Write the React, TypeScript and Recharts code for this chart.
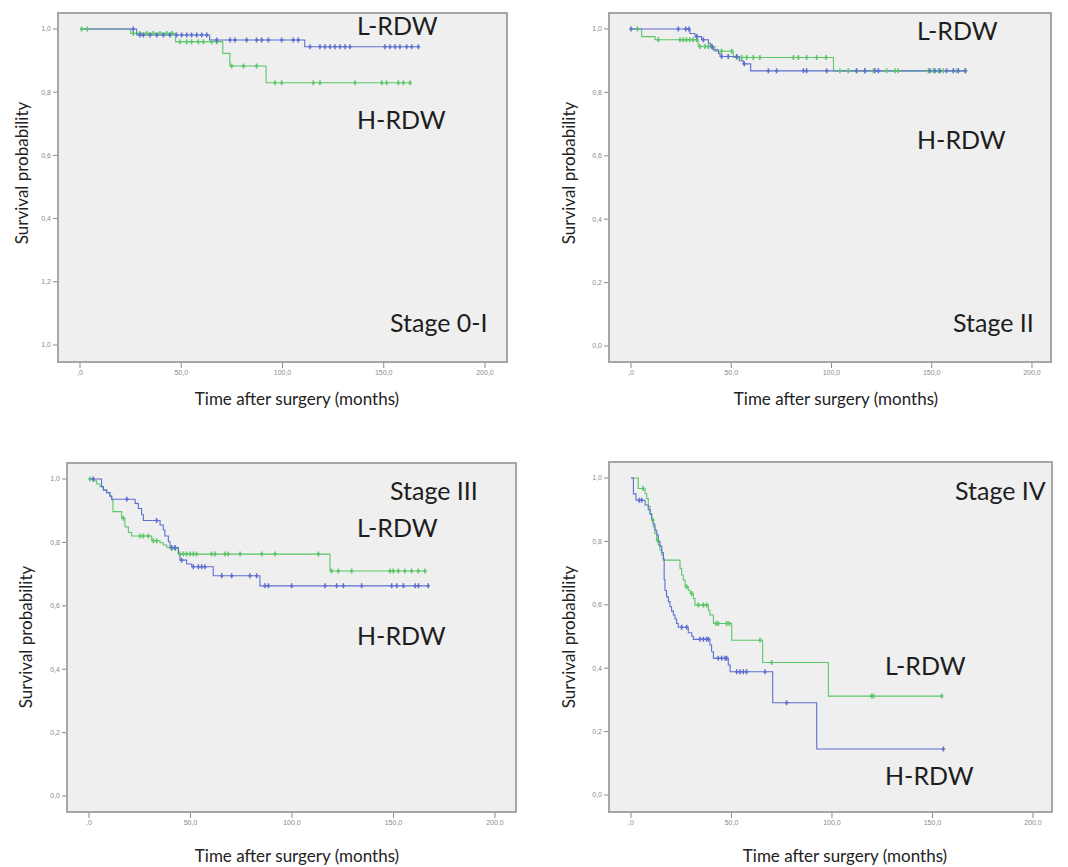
import React from 'react';
import { LineChart, Line, XAxis, YAxis } from 'recharts';

type Pt = [number, number, number?];

// ---------- tick labels ----------
const xTicks = [0, 50, 100, 150, 200];
const xTickLabels = [',0', '50,0', '100,0', '150,0', '200,0'];
const yTicks = [0, 0.2, 0.4, 0.6, 0.8, 1.0];
const yTickLabelsStage1 = ['1,0', '1,2', '0,4', '0,6', '0,8', '1,0'];
const yTickLabels = ['0,0', '0,2', '0,4', '0,6', '0,8', '1,0'];

// ---------- series: [time, survival, censored(1)] ----------
const stage1Green: Pt[] = [
  [0, 1], [0.8, 1, 1], [3.6, 1, 1], [25, 0.986],
  [26.3, 0.986, 1], [29.6, 0.986, 1], [32.9, 0.986, 1], [36.2, 0.986, 1], [39.5, 0.986, 1], [42.8, 0.986, 1], [45.3, 0.986, 1],
  [47.2, 0.96], [49.4, 0.96, 1], [52.7, 0.96, 1], [55.1, 0.96, 1], [58.4, 0.96, 1], [60.9, 0.96, 1], [65.0, 0.96, 1], [67.5, 0.96, 1],
  [70.5, 0.923], [74, 0.883], [74.9, 0.883, 1], [80.7, 0.883, 1], [87.2, 0.883, 1],
  [91.9, 0.83], [96.3, 0.83, 1], [99.6, 0.83, 1], [115.2, 0.83, 1], [118.5, 0.83, 1], [135.8, 0.83, 1],
  [149, 0.83, 1], [151.4, 0.83, 1], [157.2, 0.83, 1], [159.7, 0.83, 1], [163, 0.83, 1],
];
const stage1Blue: Pt[] = [
  [0, 1], [26.3, 1, 1], [28, 0.981],
  [29.6, 0.981, 1], [31.3, 0.981, 1], [34.6, 0.981, 1], [37.9, 0.981, 1], [41.2, 0.981, 1], [44.4, 0.981, 1], [47.7, 0.981, 1],
  [50.2, 0.981, 1], [52.7, 0.981, 1], [55.1, 0.981, 1], [57.6, 0.981, 1], [60.1, 0.981, 1], [62.6, 0.981, 1],
  [64, 0.965], [67.5, 0.965, 1], [74.1, 0.965, 1], [76.5, 0.965, 1], [82.3, 0.965, 1], [87.2, 0.965, 1], [89.7, 0.965, 1],
  [93.0, 0.965, 1], [99.6, 0.965, 1], [105.3, 0.965, 1], [107.8, 0.965, 1],
  [111, 0.944], [113.6, 0.944, 1], [118.5, 0.944, 1], [121, 0.944, 1], [123.5, 0.944, 1], [125.9, 0.944, 1], [128.4, 0.944, 1],
  [130.9, 0.944, 1], [133.3, 0.944, 1], [150.6, 0.944, 1], [153.1, 0.944, 1], [155.6, 0.944, 1], [158, 0.944, 1],
  [161.3, 0.944, 1], [163.8, 0.944, 1], [167.1, 0.944, 1],
];

const stage2Blue: Pt[] = [
  [0, 1, 1], [23.6, 1, 1], [27.3, 1, 1], [28.9, 1, 1], [29.4, 0.986], [31.9, 0.976], [32.8, 0.976, 1],
  [35.2, 0.966], [36.1, 0.966, 1], [38.6, 0.955], [39.7, 0.944], [40.5, 0.944, 1], [41, 0.934], [43.6, 0.923], [44.4, 0.913],
  [45.2, 0.913, 1], [48.5, 0.913, 1], [52.7, 0.913, 1], [54, 0.9], [56, 0.89], [56.5, 0.89, 1], [59.7, 0.868],
  [68.5, 0.868, 1], [72.6, 0.868, 1], [86, 0.868, 1], [87.6, 0.868, 1], [97.6, 0.868, 1], [112.5, 0.868, 1], [116.7, 0.868, 1],
  [121.7, 0.868, 1], [123.4, 0.868, 1], [149.1, 0.868, 1], [151.6, 0.868, 1], [154.1, 0.868, 1], [157.4, 0.868, 1],
  [160.8, 0.868, 1], [163.3, 0.868, 1], [166.6, 0.868, 1],
];
const stage2Green: Pt[] = [
  [0, 1], [3.2, 1, 1], [5.3, 0.976], [12, 0.966], [13.6, 0.966, 1], [24.4, 0.966, 1], [26, 0.966, 1], [27.6, 0.966, 1],
  [29.3, 0.966, 1], [31, 0.966, 1], [32.8, 0.966, 1], [33.5, 0.945], [34.4, 0.945, 1], [36.9, 0.945, 1], [38.6, 0.945, 1],
  [40.2, 0.945, 1], [41.9, 0.93], [45.2, 0.93, 1], [50.2, 0.93, 1], [51, 0.91], [52.7, 0.91, 1], [55.2, 0.91, 1],
  [57.7, 0.91, 1], [61, 0.91, 1], [64.3, 0.91, 1], [81, 0.91, 1], [83.5, 0.91, 1], [87.6, 0.91, 1], [92.6, 0.91, 1],
  [97.3, 0.91, 1], [101, 0.868], [104.2, 0.868, 1], [108.4, 0.868, 1], [112.5, 0.868, 1], [116.7, 0.868, 1],
  [120.9, 0.868, 1], [127.5, 0.868, 1], [131.7, 0.868, 1], [133.3, 0.868, 1], [148.3, 0.868, 1], [150.8, 0.868, 1],
  [153.3, 0.868, 1], [155.8, 0.868, 1], [160.8, 0.868, 1], [162.5, 0.868, 1], [167, 0.868, 1],
];

const stage3Green: Pt[] = [
  [0, 1], [0.5, 1, 1], [2.1, 0.994], [3.8, 0.984], [5.4, 0.976], [7.1, 0.965], [8.7, 0.957], [10.3, 0.946],
  [11.2, 0.934], [11.8, 0.897], [16.1, 0.876], [16.9, 0.876, 1], [17.7, 0.849], [19.4, 0.831], [21, 0.82],
  [25.1, 0.82, 1], [26.8, 0.82, 1], [29.2, 0.82, 1], [30.9, 0.805], [31.7, 0.805, 1], [33.3, 0.805, 1],
  [35, 0.799], [36.6, 0.792], [38.3, 0.784], [39.9, 0.781], [40.7, 0.781, 1], [42.4, 0.781, 1], [44, 0.763],
  [44.8, 0.763, 1], [46.5, 0.763, 1], [48.1, 0.763, 1], [49.8, 0.763, 1], [51.4, 0.763, 1], [53, 0.763, 1],
  [60.4, 0.763, 1], [62.1, 0.763, 1], [67, 0.763, 1], [68.6, 0.763, 1], [74.4, 0.763, 1], [85.1, 0.763, 1],
  [91.6, 0.763, 1], [113, 0.763, 1], [118.7, 0.71], [119.5, 0.71, 1], [122.8, 0.71, 1], [129.4, 0.71, 1],
  [148.3, 0.71, 1], [149.9, 0.71, 1], [152.4, 0.71, 1], [155.6, 0.71, 1], [158.9, 0.71, 1], [162.2, 0.71, 1], [165.5, 0.71, 1],
];
const stage3Blue: Pt[] = [
  [0, 1], [2.1, 1, 1], [6.2, 0.976], [7.1, 0.965], [8.7, 0.957], [10.3, 0.946], [11.2, 0.936], [18.6, 0.936, 1],
  [22.7, 0.923], [24.3, 0.907], [25.9, 0.887], [26.8, 0.869], [33.3, 0.869, 1], [35, 0.855], [36.6, 0.839],
  [37.4, 0.82], [39.1, 0.802], [39.9, 0.784], [40.7, 0.784, 1], [42.4, 0.784, 1], [44, 0.765], [44.8, 0.744],
  [45.6, 0.744, 1], [48.1, 0.732], [50.6, 0.723], [51.4, 0.723, 1], [53.9, 0.723, 1], [55.5, 0.723, 1], [57.1, 0.723, 1],
  [61.2, 0.695], [65.4, 0.695, 1], [70.3, 0.695, 1], [79.3, 0.695, 1], [82.6, 0.695, 1], [84.2, 0.663],
  [86.7, 0.663, 1], [88.4, 0.663, 1], [99.8, 0.663, 1], [116.3, 0.663, 1], [122, 0.663, 1], [125.3, 0.663, 1],
  [134.3, 0.663, 1], [149.1, 0.663, 1], [151.6, 0.663, 1], [154.9, 0.663, 1], [160.7, 0.663, 1], [162.3, 0.663, 1], [167.1, 0.663, 1],
];

const stage4Blue: Pt[] = [
  [0, 1], [1.2, 0.95], [2.5, 0.93], [4.1, 0.93, 1], [5.3, 0.93, 1], [7, 0.915], [8.6, 0.9], [9.5, 0.885], [10.3, 0.87],
  [11.1, 0.855], [11.9, 0.835], [12.8, 0.82], [13.6, 0.8], [14.4, 0.785], [15.3, 0.765], [16.1, 0.745], [16.5, 0.68],
  [16.9, 0.645], [17.7, 0.625], [18.6, 0.61], [19.4, 0.594], [20.2, 0.58], [21.1, 0.568], [21.9, 0.555], [22.7, 0.541],
  [23.5, 0.529], [25.2, 0.529, 1], [27.7, 0.529, 1], [28.5, 0.512], [30.2, 0.501], [31, 0.491], [34.3, 0.491, 1],
  [36, 0.491, 1], [37.6, 0.491, 1], [38.5, 0.491, 1], [39.3, 0.473], [40.1, 0.452], [41, 0.431], [43.4, 0.431, 1],
  [45.1, 0.431, 1], [46.8, 0.431, 1], [47.6, 0.431, 1], [48.4, 0.41], [49.3, 0.389], [52.6, 0.389, 1], [54.2, 0.389, 1],
  [55.9, 0.389, 1], [57.5, 0.389, 1], [66.7, 0.389, 1], [70.5, 0.291], [77.4, 0.291, 1], [92.4, 0.145], [155.4, 0.145, 1],
];
const stage4Green: Pt[] = [
  [0, 1], [3.6, 0.967], [6.1, 0.967, 1], [7, 0.951], [7.8, 0.935], [8.6, 0.91], [9.5, 0.888], [10.3, 0.867],
  [10.8, 0.867, 1], [11.1, 0.846], [11.9, 0.825], [12.8, 0.804], [13.2, 0.804, 1], [13.6, 0.789], [14.4, 0.773],
  [15.3, 0.757], [16.1, 0.741], [24.4, 0.715], [25.2, 0.694], [26, 0.678], [26.9, 0.657], [27.7, 0.657, 1],
  [28.5, 0.646], [29.4, 0.636], [30.2, 0.636, 1], [31, 0.62], [31.8, 0.599], [33.5, 0.599, 1], [36, 0.599, 1],
  [37.6, 0.599, 1], [38.5, 0.583], [39.3, 0.568], [41, 0.541], [42.3, 0.541, 1], [43.4, 0.541, 1], [47.6, 0.541, 1],
  [48.9, 0.541, 1], [50.1, 0.488], [64.2, 0.488, 1], [65.5, 0.418], [70, 0.418, 1], [98.2, 0.312],
  [119.7, 0.312, 1], [120.6, 0.312, 1], [154.6, 0.312, 1],
];

// ---------- styling ----------
const BLUE = '#5f6fcf';
const GREEN = '#5cc66a';
const FONT = 'Lato, "Open Sans", sans-serif';

const toRows = (arr: Pt[]) => arr.map(([t, s, c]) => ({ t, s, c: c ? 1 : 0 }));

const censorDot = (color: string) => (props: any) => {
  const { cx, cy, payload, index } = props;
  if (!payload || !payload.c || cx == null || cy == null) return <g key={`n-${index}`} />;
  return (
    <path
      key={`c-${index}`}
      d={`M${cx},${cy - 2.5}V${cy + 2.5}M${cx - 1.8},${cy}H${cx + 1.8}`}
      stroke={color}
      strokeWidth={1.5}
      fill="none"
    />
  );
};

type Frame = { l: number; t: number; r: number; b: number };

interface PanelProps {
  frame: Frame;
  xDomain: [number, number];
  yDomain: [number, number];
  green: Pt[];
  blue: Pt[];
  yLabels: string[];
}

function Panel({ frame, xDomain, yDomain, green, blue, yLabels }: PanelProps) {
  const PAD_L = 40, PAD_T = 6, PAD_R = 6, PAD_B = 26;
  const w = frame.r - frame.l;
  const h = frame.b - frame.t;
  return (
    <>
      <div
        style={{
          position: 'absolute', left: frame.l, top: frame.t, width: w, height: h,
          background: '#efefef', border: '2px solid #a6a6a6', boxSizing: 'border-box',
        }}
      />
      <div style={{ position: 'absolute', left: frame.l - PAD_L, top: frame.t - PAD_T }}>
        <LineChart
          width={w + PAD_L + PAD_R}
          height={h + PAD_T + PAD_B}
          margin={{ top: PAD_T, right: PAD_R, left: 0, bottom: 0 }}
        >
          <XAxis
            type="number"
            dataKey="t"
            domain={xDomain}
            allowDataOverflow
            ticks={xTicks}
            interval={0}
            height={PAD_B}
            axisLine={false}
            tickLine={{ stroke: '#8a8a8a' }}
            tickSize={5}
            tick={{ fontSize: 7, fill: '#8a8a8a', fontFamily: 'Arial, sans-serif' }}
            tickFormatter={(v: number) => xTickLabels[xTicks.indexOf(v)] ?? ''}
          />
          <YAxis
            type="number"
            dataKey="s"
            domain={yDomain}
            allowDataOverflow
            ticks={yTicks}
            interval={0}
            width={PAD_L}
            axisLine={false}
            tickLine={{ stroke: '#8a8a8a' }}
            tickSize={4}
            tick={{ fontSize: 7, fill: '#8a8a8a', fontFamily: 'Arial, sans-serif' }}
            tickFormatter={(v: number) => {
              const i = yTicks.findIndex((k) => Math.abs(k - v) < 1e-6);
              return i >= 0 ? yLabels[i] : '';
            }}
          />
          <Line
            data={toRows(green)}
            dataKey="s"
            type="stepAfter"
            stroke={GREEN}
            strokeWidth={1.1}
            dot={censorDot(GREEN)}
            activeDot={false}
            isAnimationActive={false}
          />
          <Line
            data={toRows(blue)}
            dataKey="s"
            type="stepAfter"
            stroke={BLUE}
            strokeWidth={1.1}
            dot={censorDot(BLUE)}
            activeDot={false}
            isAnimationActive={false}
          />
        </LineChart>
      </div>
    </>
  );
}

const BIG = 25;
const TITLE = 17;

export default function App() {
  return (
    <div style={{ position: 'absolute', left: 0, top: 0, width: 1068, height: 867, background: '#fff', overflow: 'hidden' }}>
      <Panel
        frame={{ l: 57, t: 12, r: 508, b: 363 }}
        xDomain={[-11.36, 211.36]}
        yDomain={[-0.057, 1.0538]}
        green={stage1Green}
        blue={stage1Blue}
        yLabels={yTickLabelsStage1}
      />
      <Panel
        frame={{ l: 608, t: 12, r: 1052, b: 363 }}
        xDomain={[-11.47, 209.98]}
        yDomain={[-0.0536, 1.0536]}
        green={stage2Green}
        blue={stage2Blue}
        yLabels={yTickLabels}
      />
      <Panel
        frame={{ l: 66, t: 462, r: 517, b: 813 }}
        xDomain={[-11.33, 210.84]}
        yDomain={[-0.0536, 1.0536]}
        green={stage3Green}
        blue={stage3Blue}
        yLabels={yTickLabels}
      />
      <Panel
        frame={{ l: 608, t: 461, r: 1053, b: 813 }}
        xDomain={[-11.44, 209.95]}
        yDomain={[-0.0568, 1.0536]}
        green={stage4Green}
        blue={stage4Blue}
        yLabels={yTickLabels}
      />
      <svg width={1068} height={867} style={{ position: 'absolute', left: 0, top: 0, pointerEvents: 'none' }}>
        <g fontFamily={FONT} fontSize={BIG} fill="#1e1e1e">
          <text x={357} y={35}>L-RDW</text>
          <text x={357} y={129}>H-RDW</text>
          <text x={390} y={332}>Stage 0-I</text>
          <text x={917} y={40}>L-RDW</text>
          <text x={917} y={149}>H-RDW</text>
          <text x={953} y={332}>Stage II</text>
          <text x={390} y={500}>Stage III</text>
          <text x={357} y={537}>L-RDW</text>
          <text x={357} y={645}>H-RDW</text>
          <text x={955} y={500}>Stage IV</text>
          <text x={885} y={675}>L-RDW</text>
          <text x={885} y={785}>H-RDW</text>
        </g>
        <g fontFamily={FONT} fontSize={TITLE} fill="#222" textAnchor="middle">
          <text x={297} y={405}>Time after surgery (months)</text>
          <text x={836} y={405}>Time after surgery (months)</text>
          <text x={297} y={862}>Time after surgery (months)</text>
          <text x={845} y={862}>Time after surgery (months)</text>
          <text transform="translate(28,173) rotate(-90)">Survival probability</text>
          <text transform="translate(575,173) rotate(-90)">Survival probability</text>
          <text transform="translate(32,637) rotate(-90)">Survival probability</text>
          <text transform="translate(575,637) rotate(-90)">Survival probability</text>
        </g>
      </svg>
    </div>
  );
}
